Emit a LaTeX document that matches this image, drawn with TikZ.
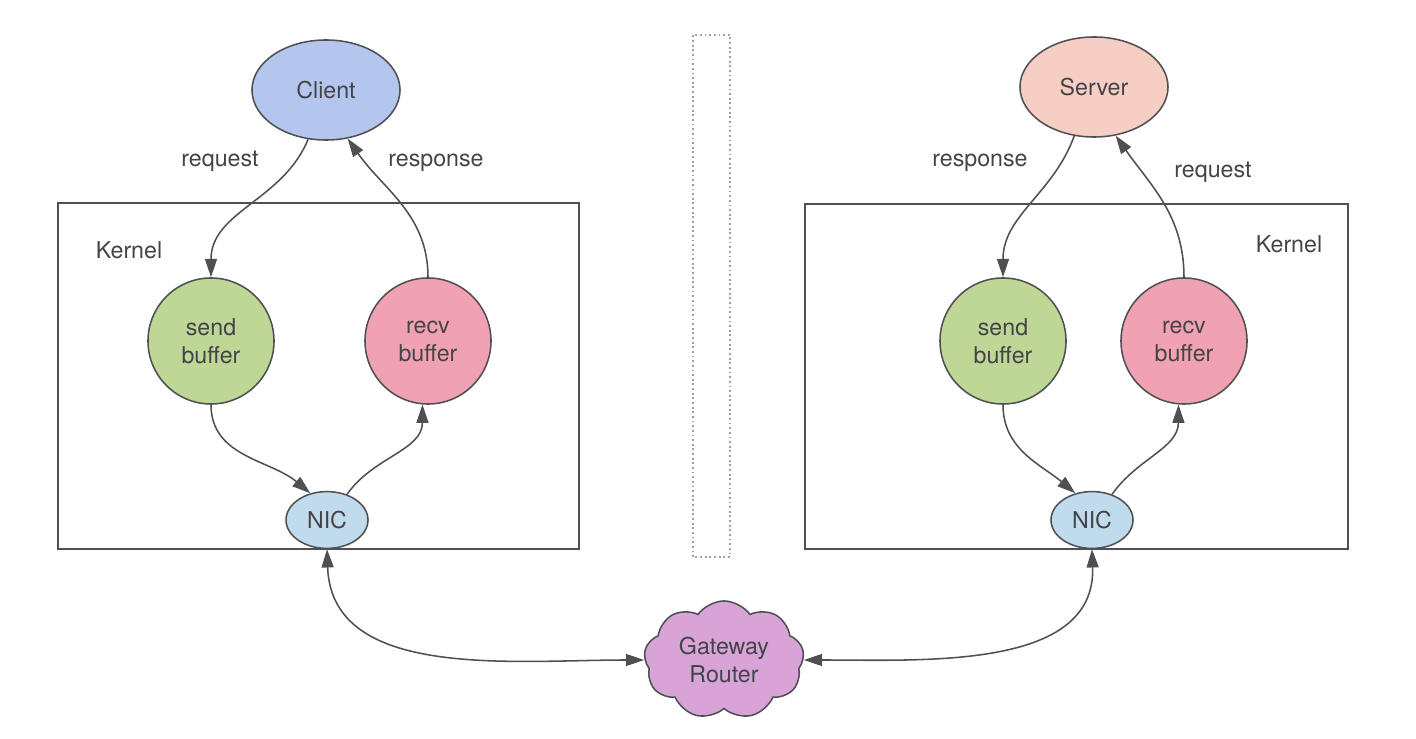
\documentclass[tikz,border=0pt]{standalone}
\definecolor{clientBlue}{RGB}{181,198,238}
\definecolor{serverPink}{RGB}{246,206,196}
\definecolor{sendGreen}{RGB}{190,214,150}
\definecolor{recvRed}{RGB}{240,162,178}
\definecolor{nicBlue}{RGB}{192,219,236}
\definecolor{routerPurple}{RGB}{216,164,216}
\definecolor{lineGray}{RGB}{80,80,84}
\definecolor{textGray}{RGB}{68,68,72}
\usepackage{fontspec}
\setmainfont{TeX Gyre Heros}
\usepackage{tikz}
\usetikzlibrary{shapes,arrows.meta,positioning,calc}

\begin{document}
\begin{tikzpicture}[x=0.025cm,y=0.025cm,
    font=\fontsize{16.5}{20}\selectfont, text=textGray,
    host/.style={ellipse, draw=lineGray, line width=1.1pt, minimum width=3.7cm, minimum height=2.5cm},
    buffer/.style={circle, draw=lineGray, line width=1.1pt, minimum size=3.15cm, align=center},
    nic/.style={ellipse, draw=lineGray, line width=1.1pt, fill=nicBlue, minimum width=2.05cm, minimum height=1.42cm},
    kernelbox/.style={draw=lineGray, line width=1.1pt},
    flow/.style={draw=lineGray, line width=1.1pt, -{Triangle[length=13pt,width=8.5pt]}},
    link/.style={flow, {Triangle[length=13pt,width=8.5pt]}-{Triangle[length=13pt,width=8.5pt]}}]
  \useasboundingbox (0,0) rectangle (1416,738);
  % Kernel boxes and divider
  \draw[kernelbox] (58,189) rectangle (579,535);
  \draw[kernelbox] (805,189) rectangle (1348,534);
  \draw[lineGray!55, line width=1.3pt, dotted] (693,181) rectangle (730,703);
  \node (kernelL) at (129,488) {Kernel};
  \node (kernelR) at (1289,494) {Kernel};
  % Hosts
  \node[host, fill=clientBlue] (client) at (326,648) {Client};
  \node[host, fill=serverPink] (server) at (1094,651) {Server};
  % Buffers
  \node[buffer, fill=sendGreen] (sendL) at (211,397) {send\\buffer};
  \node[buffer, fill=recvRed] (recvL) at (428,397) {recv\\buffer};
  \node[buffer, fill=sendGreen] (sendR) at (1003,397) {send\\buffer};
  \node[buffer, fill=recvRed] (recvR) at (1184,397) {recv\\buffer};
  % NICs
  \node[nic] (nicL) at (327,218) {NIC};
  \node[nic] (nicR) at (1092,218) {NIC};
  % Router
  \node[cloud, cloud puffs=9, cloud puff arc=110, aspect=1.3, draw=lineGray,
        line width=1.1pt, fill=routerPurple, minimum width=4cm, minimum height=2.95cm,
        inner sep=0pt, align=center] (router) at (724,78) {Gateway\\Router};
  % Client side
  \draw[flow] (client.250) to[out=-112,in=90] (sendL.north);
  \draw[flow] (recvL.north) to[out=90,in=-55] (client.294);
  \draw[flow] (sendL.south) to[out=-90,in=140] (nicL.122);
  \draw[flow] (nicL.52) to[out=55,in=-90] (recvL.265);
  \node (reqL) at (220,577) {request};
  \node (resL) at (436,575) {response};
  % Server side
  \draw[flow] (server.248) to[out=-110,in=90] (sendR.north);
  \draw[flow] (recvR.north) to[out=90,in=-55] (server.294);
  \draw[flow] (sendR.south) to[out=-90,in=140] (nicR.122);
  \draw[flow] (nicR.52) to[out=55,in=-90] (recvR.265);
  \node (resR) at (980,575) {response};
  \node (reqR) at (1213,566) {request};
  % Network
  \draw[link] (nicL.south) to[out=-88,in=180] (router.west);
  \draw[link] (router.east) to[out=0,in=-88] (nicR.south);
\end{tikzpicture}
\end{document}
